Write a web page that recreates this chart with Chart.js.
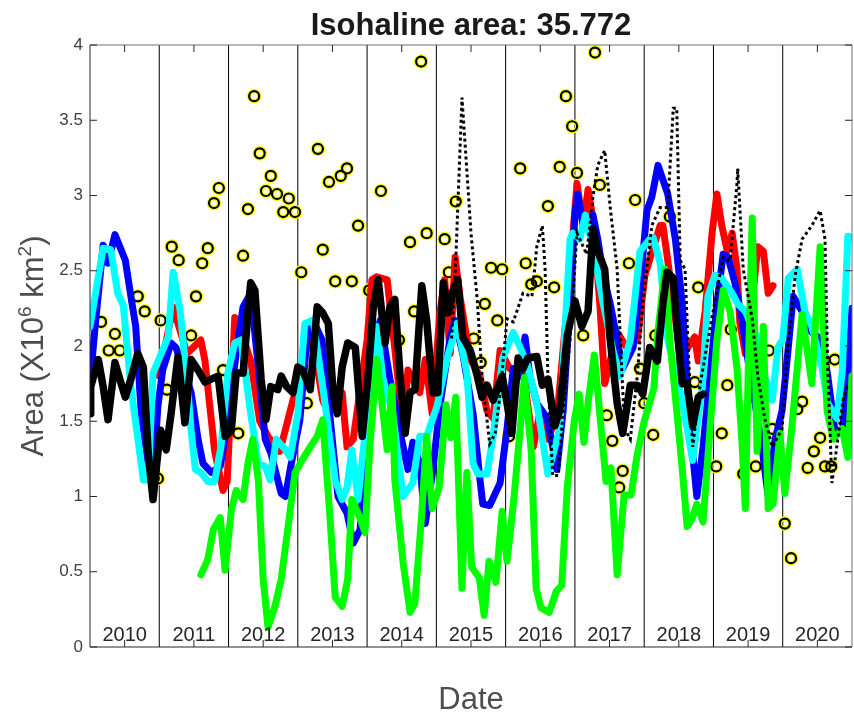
<!DOCTYPE html>
<html>
<head>
<meta charset="utf-8">
<script src="https://cdn.jsdelivr.net/npm/chart.js@4.4.1/dist/chart.umd.min.js"></script>
<style>
  html, body { margin: 0; padding: 0; background: #fff; }
  canvas { display: block; }
</style>
</head>
<body>
<canvas id="chart" width="854" height="715"></canvas>
<script>
// Isohaline area time series, [decimal year, area in 10^6 km^2]
const redSeries = [
  [2011.00,1.80],[2011.13,2.10],[2011.20,2.26],[2011.27,2.15],[2011.40,1.95],[2011.60,2.04],[2011.66,1.90],
  [2011.80,1.30],[2011.92,1.04],[2011.98,1.10],[2012.09,2.19],[2012.18,2.10],[2012.32,1.90],[2012.45,1.50],
  [2012.57,1.40],[2012.74,1.30],[2012.93,1.64],[2013.03,1.78],[2013.13,2.13],[2013.28,1.86],[2013.36,1.64],
  [2013.45,1.55],[2013.64,1.69],[2013.71,1.33],[2013.80,1.38],[2014.00,2.04],[2014.07,2.44],[2014.14,2.46],
  [2014.29,2.44],[2014.37,2.11],[2014.52,1.46],[2014.59,1.84],[2014.76,1.69],[2014.84,1.91],[2014.94,1.55],
  [2015.05,2.22],[2015.12,2.44],[2015.20,1.95],[2015.27,2.59],[2015.34,2.33],[2015.49,1.91],[2015.63,1.80],
  [2015.73,1.57],[2015.82,1.52],[2015.92,1.97],[2016.06,1.85],[2016.25,1.85],[2016.40,1.33],[2016.50,1.57],
  [2016.60,1.38],[2016.74,1.52],[2016.89,2.28],[2017.03,3.08],[2017.12,2.80],[2017.19,3.04],[2017.26,2.85],
  [2017.36,2.28],[2017.43,1.75],[2017.61,2.09],[2017.75,1.99],[2017.90,2.04],[2018.01,2.47],[2018.23,2.80],
  [2018.27,2.80],[2018.34,2.57],[2018.49,2.04],[2018.63,1.99],[2018.73,2.06],[2018.78,1.90],[2018.88,2.23],
  [2018.98,2.75],[2019.05,3.01],[2019.12,2.80],[2019.20,2.63],[2019.27,2.75],[2019.34,2.51],[2019.38,2.16],
  [2019.46,1.95],[2019.56,2.30],[2019.64,2.66],[2019.72,2.63],[2019.79,2.35],[2019.86,2.40]
];

const blueSeries = [
  [2010.00,1.75],[2010.07,2.11],[2010.19,2.67],[2010.26,2.55],[2010.36,2.74],[2010.43,2.66],[2010.51,2.57],
  [2010.59,2.33],[2010.66,2.13],[2010.74,1.55],[2010.84,1.22],[2010.91,1.11],[2010.98,1.60],[2011.05,1.84],
  [2011.17,2.02],[2011.24,1.99],[2011.34,1.86],[2011.46,1.69],[2011.56,1.38],[2011.63,1.22],[2011.75,1.16],
  [2011.88,1.20],[2011.99,1.51],[2012.11,1.95],[2012.21,2.26],[2012.32,2.35],[2012.43,1.86],[2012.53,1.38],
  [2012.61,1.29],[2012.76,1.02],[2012.82,1.00],[2012.89,1.18],[2013.03,1.51],[2013.13,2.04],[2013.22,2.17],
  [2013.35,2.04],[2013.46,1.55],[2013.58,1.00],[2013.71,0.89],[2013.80,0.69],[2013.90,0.78],[2014.00,1.55],
  [2014.11,2.04],[2014.19,2.17],[2014.33,1.78],[2014.48,1.42],[2014.59,1.18],[2014.66,1.36],[2014.76,1.22],
  [2014.84,0.82],[2014.95,1.18],[2015.05,1.60],[2015.20,2.06],[2015.27,2.17],[2015.38,1.95],[2015.53,1.55],
  [2015.63,1.11],[2015.67,0.95],[2015.77,0.94],[2015.92,1.09],[2016.02,1.45],[2016.11,1.85],[2016.21,1.80],
  [2016.28,2.06],[2016.35,1.80],[2016.45,1.62],[2016.60,1.52],[2016.74,1.18],[2016.83,1.57],[2016.93,2.28],
  [2017.00,2.87],[2017.04,3.01],[2017.12,2.80],[2017.26,2.87],[2017.33,2.71],[2017.41,2.47],[2017.51,2.28],
  [2017.61,2.04],[2017.69,1.85],[2017.84,1.99],[2017.94,2.40],[2018.04,2.90],[2018.11,2.99],[2018.20,3.20],
  [2018.34,3.01],[2018.45,2.71],[2018.55,2.28],[2018.62,1.75],[2018.69,1.33],[2018.76,1.00],[2018.85,1.33],
  [2018.95,1.80],[2019.05,2.28],[2019.14,2.61],[2019.21,2.59],[2019.31,2.42],[2019.41,2.18],[2019.50,1.90],
  [2019.60,1.62],[2019.70,1.33],[2019.79,1.00],[2019.89,1.38],[2019.99,1.57],[2020.08,1.99],[2020.15,2.33],
  [2020.28,2.23],[2020.42,2.09],[2020.57,2.04],[2020.65,1.80],[2020.75,1.45],[2020.86,1.42],[2020.94,1.80],
  [2021.00,2.25]
];

const cyanSeries = [
  [2010.00,2.13],[2010.19,2.65],[2010.30,2.64],[2010.40,2.35],[2010.48,2.27],[2010.59,1.73],[2010.77,1.11],
  [2010.84,1.11],[2010.91,1.82],[2011.13,2.06],[2011.20,2.49],[2011.30,2.24],[2011.41,1.73],[2011.46,1.44],
  [2011.52,1.18],[2011.60,1.16],[2011.70,1.10],[2011.80,1.10],[2011.89,1.33],[2011.99,1.82],[2012.09,2.02],
  [2012.18,2.04],[2012.32,1.55],[2012.43,1.22],[2012.53,1.20],[2012.60,1.11],[2012.69,1.38],[2012.82,1.31],
  [2012.89,1.26],[2013.00,1.55],[2013.10,2.15],[2013.22,2.17],[2013.36,1.73],[2013.54,1.11],[2013.64,0.98],
  [2013.71,1.06],[2013.78,1.31],[2013.87,0.98],[2014.00,1.55],[2014.14,2.13],[2014.23,1.78],[2014.37,1.55],
  [2014.52,1.00],[2014.66,1.09],[2014.76,1.40],[2014.86,1.40],[2015.01,1.60],[2015.15,1.91],[2015.30,2.15],
  [2015.44,1.82],[2015.53,1.22],[2015.60,1.15],[2015.73,1.15],[2015.82,1.40],[2015.96,1.92],[2016.11,2.09],
  [2016.21,1.99],[2016.31,1.88],[2016.45,1.62],[2016.61,1.15],[2016.78,1.45],[2016.93,2.71],[2016.97,2.75],
  [2017.07,2.71],[2017.15,2.87],[2017.26,2.66],[2017.41,2.28],[2017.55,1.97],[2017.65,1.80],[2017.80,2.04],
  [2017.94,2.63],[2018.08,2.71],[2018.13,2.72],[2018.23,2.55],[2018.34,2.04],[2018.55,1.64],[2018.70,1.24],
  [2018.84,1.74],[2018.92,2.33],[2019.02,2.47],[2019.12,2.45],[2019.27,2.35],[2019.35,2.28],[2019.46,2.23],
  [2019.60,2.09],[2019.74,1.80],[2019.85,1.64],[2019.93,1.99],[2020.00,2.04],[2020.08,2.45],[2020.21,2.51],
  [2020.32,2.23],[2020.42,2.13],[2020.57,1.85],[2020.65,1.62],[2020.78,1.52],[2020.86,1.83],[2020.94,2.73],
  [2021.00,2.72]
];

const greenSeries = [
  [2011.60,0.48],[2011.70,0.58],[2011.78,0.78],[2011.88,0.86],[2011.95,0.51],[2012.04,0.91],[2012.11,1.04],
  [2012.21,0.98],[2012.28,1.22],[2012.35,1.38],[2012.43,1.11],[2012.50,0.45],[2012.57,0.13],[2012.67,0.27],
  [2012.76,0.45],[2012.86,0.80],[2012.96,1.16],[2013.06,1.24],[2013.18,1.33],[2013.28,1.40],[2013.36,1.51],
  [2013.46,0.89],[2013.54,0.33],[2013.64,0.27],[2013.72,0.45],[2013.78,0.98],[2013.87,0.89],[2013.97,0.76],
  [2014.04,1.33],[2014.14,1.91],[2014.22,1.60],[2014.29,1.31],[2014.36,1.73],[2014.40,1.11],[2014.52,0.56],
  [2014.62,0.23],[2014.69,0.29],[2014.79,0.89],[2014.86,1.40],[2014.94,0.92],[2015.04,1.06],[2015.14,1.61],
  [2015.21,1.39],[2015.28,1.66],[2015.37,0.39],[2015.44,1.16],[2015.51,0.53],[2015.62,0.46],[2015.69,0.21],
  [2015.76,0.57],[2015.86,0.43],[2015.95,0.90],[2016.02,0.57],[2016.12,0.99],[2016.22,1.50],[2016.27,1.79],
  [2016.37,1.30],[2016.44,0.39],[2016.51,0.26],[2016.63,0.23],[2016.73,0.37],[2016.81,0.41],[2016.89,1.06],
  [2016.99,1.50],[2017.06,1.68],[2017.13,1.36],[2017.20,1.66],[2017.28,1.94],[2017.45,1.10],[2017.52,1.19],
  [2017.61,0.48],[2017.71,1.01],[2017.81,1.01],[2017.90,1.28],[2018.00,1.50],[2018.14,1.72],[2018.20,2.10],
  [2018.30,2.51],[2018.37,2.04],[2018.47,1.57],[2018.55,1.18],[2018.62,0.80],[2018.69,0.85],[2018.76,0.95],
  [2018.85,0.83],[2018.95,1.45],[2019.05,2.04],[2019.14,2.37],[2019.24,2.23],[2019.34,1.85],[2019.41,1.38],
  [2019.46,0.92],[2019.50,1.80],[2019.56,2.85],[2019.63,1.30],[2019.72,2.13],[2019.79,0.92],[2019.86,0.95],
  [2019.96,1.42],[2020.03,1.02],[2020.13,1.45],[2020.28,2.21],[2020.42,1.75],[2020.54,2.66],[2020.64,1.57],
  [2020.73,1.38],[2020.86,1.45],[2020.94,1.26],[2021.00,1.80]
];

const blackSeries = [
  [2010.00,1.55],[2010.01,1.73],[2010.12,1.91],[2010.19,1.73],[2010.26,1.51],[2010.36,1.89],[2010.43,1.78],
  [2010.51,1.66],[2010.59,1.78],[2010.69,1.95],[2010.77,1.86],[2010.84,1.29],[2010.91,0.98],[2010.98,1.29],
  [2011.02,1.44],[2011.10,1.31],[2011.17,1.55],[2011.27,1.93],[2011.37,1.49],[2011.46,1.91],[2011.56,1.84],
  [2011.66,1.76],[2011.75,1.78],[2011.85,1.80],[2011.95,1.40],[2012.04,1.44],[2012.11,1.82],[2012.21,1.82],
  [2012.28,2.22],[2012.32,2.42],[2012.38,2.37],[2012.47,1.78],[2012.54,1.51],[2012.61,1.73],[2012.71,1.71],
  [2012.76,1.80],[2012.84,1.73],[2012.93,1.69],[2013.00,1.86],[2013.07,1.84],[2013.18,1.71],[2013.28,2.26],
  [2013.36,2.22],[2013.44,2.15],[2013.51,1.69],[2013.57,1.55],[2013.64,1.86],[2013.72,2.02],[2013.83,1.99],
  [2013.93,1.40],[2014.01,1.78],[2014.09,2.26],[2014.16,2.44],[2014.26,2.02],[2014.33,2.26],[2014.40,2.31],
  [2014.48,1.78],[2014.55,1.42],[2014.62,1.69],[2014.69,1.71],[2014.79,2.40],[2014.86,2.17],[2014.95,1.69],
  [2015.02,1.69],[2015.10,2.42],[2015.17,2.22],[2015.24,2.37],[2015.31,2.44],[2015.38,2.06],[2015.49,1.97],
  [2015.59,1.80],[2015.66,1.66],[2015.73,1.74],[2015.82,1.64],[2015.95,1.80],[2016.02,1.62],[2016.09,1.42],
  [2016.18,1.92],[2016.25,1.85],[2016.32,1.92],[2016.45,1.93],[2016.53,1.74],[2016.61,1.78],[2016.71,1.47],
  [2016.78,1.57],[2016.89,2.07],[2017.00,2.30],[2017.10,2.13],[2017.19,2.23],[2017.26,2.78],[2017.33,2.63],
  [2017.43,2.51],[2017.51,2.04],[2017.61,1.62],[2017.69,1.42],[2017.80,1.74],[2017.90,1.74],[2017.98,1.68],
  [2018.08,1.99],[2018.19,1.90],[2018.27,2.28],[2018.33,2.49],[2018.42,2.45],[2018.49,2.04],[2018.55,1.75],
  [2018.62,1.75],[2018.70,1.47],[2018.78,1.66],[2018.85,1.68]
];

const dottedSeries = [
  [2015.22,2.05],[2015.28,2.57],[2015.37,3.65],[2015.50,2.75],[2015.59,2.31],[2015.66,1.80],[2015.77,1.35],
  [2015.85,1.42],[2015.92,1.68],[2016.02,2.18],[2016.11,2.16],[2016.25,2.35],[2016.38,2.33],[2016.45,2.66],
  [2016.53,2.80],[2016.57,2.51],[2016.61,1.80],[2016.68,1.14],[2016.76,1.14],[2016.83,1.57],[2016.93,2.04],
  [2017.03,2.75],[2017.10,2.68],[2017.17,2.61],[2017.26,2.99],[2017.33,3.20],[2017.43,3.30],[2017.51,2.92],
  [2017.61,2.51],[2017.68,1.80],[2017.72,1.45],[2017.80,1.38],[2017.90,1.80],[2017.98,2.28],[2018.11,2.80],
  [2018.23,2.92],[2018.34,2.92],[2018.42,3.58],[2018.47,3.58],[2018.52,2.57],[2018.59,2.51],[2018.63,2.04],
  [2018.70,1.33],[2018.81,1.75],[2018.92,2.04],[2019.05,2.37],[2019.14,2.59],[2019.24,2.57],[2019.34,3.08],
  [2019.35,3.18],[2019.43,2.51],[2019.56,2.18],[2019.64,1.80],[2019.74,1.52],[2019.85,1.33],[2019.99,1.45],
  [2020.08,2.04],[2020.18,2.47],[2020.28,2.71],[2020.42,2.80],[2020.54,2.90],[2020.61,2.71],[2020.65,1.85],
  [2020.71,1.09],[2020.78,1.33],[2020.87,1.64],[2020.94,1.75]
];

// Individual observations (circles)
const observations = [
  [2010.16,2.16],[2010.36,2.08],[2010.27,1.97],[2010.43,1.97],[2010.69,2.33],[2010.79,2.23],[2011.02,2.17],
  [2010.98,1.12],[2011.11,1.71],[2011.18,2.66],[2011.28,2.57],[2011.46,2.07],[2011.53,2.33],[2011.62,2.55],
  [2011.70,2.65],[2011.79,2.95],[2011.86,3.05],[2011.92,1.84],[2012.14,1.42],[2012.21,2.60],[2012.28,2.91],
  [2012.37,3.66],[2012.45,3.28],[2012.54,3.03],[2012.61,3.13],[2012.70,3.01],[2012.79,2.89],[2012.87,2.98],
  [2012.96,2.89],[2013.05,2.49],[2013.13,1.62],[2013.29,3.31],[2013.36,2.64],[2013.45,3.09],[2013.54,2.43],
  [2013.62,3.13],[2013.71,3.18],[2013.78,2.43],[2013.87,2.80],[2014.03,2.37],[2014.20,3.03],[2014.46,2.04],
  [2014.62,2.69],[2014.68,2.23],[2014.78,3.89],[2014.86,2.75],[2015.12,2.71],[2015.18,2.49],[2015.28,2.96],
  [2015.54,2.05],[2015.64,1.89],[2015.70,2.28],[2015.88,2.17],[2015.79,2.52],[2015.95,2.51],[2016.05,1.40],
  [2016.21,3.18],[2016.29,2.55],[2016.37,2.41],[2016.45,2.43],[2016.61,2.93],[2016.70,2.39],[2016.78,3.19],
  [2016.87,3.66],[2016.96,3.46],[2017.03,3.15],[2017.12,2.07],[2017.29,3.95],[2017.36,3.07],[2017.46,1.54],
  [2017.54,1.37],[2017.64,1.06],[2017.69,1.17],[2017.78,2.55],[2017.87,2.97],[2017.94,1.85],[2018.00,1.62],
  [2018.13,1.41],[2018.16,2.07],[2018.37,2.86],[2018.73,1.76],[2018.78,2.39],[2019.04,1.20],[2019.12,1.42],
  [2019.20,1.74],[2019.25,2.11],[2019.43,1.15],[2019.61,1.20],[2019.80,1.97],[2019.85,1.45],[2020.03,0.82],
  [2020.12,0.59],[2020.21,1.58],[2020.28,1.63],[2020.36,1.19],[2020.45,1.30],[2020.54,1.39],[2020.61,1.20],
  [2020.70,1.20],[2020.75,1.91]
];

const yearLabels = ['2010','2011','2012','2013','2014','2015','2016','2017','2018','2019','2020'];
const titleText = 'Isohaline area: 35.772';
const xTitleText = 'Date';
// y title pieces: [text, superscript?]
const yTitleParts = [['Area (X10', false], ['6', true], [' km', false], ['2', true], [')', false]];

const FONT = '"Liberation Sans", Arial, Helvetica, sans-serif';
const toPoints = s => s.map(([x, y]) => ({ x, y }));

function lineSet(label, series, color, width, order, dashed) {
  return {
    label, data: toPoints(series), borderColor: color, backgroundColor: color,
    borderWidth: width, pointRadius: 0, pointHoverRadius: 0, fill: false, tension: 0,
    borderJoinStyle: dashed ? 'miter' : 'round', borderCapStyle: dashed ? 'butt' : 'round',
    borderDash: dashed ? [3, 3] : [], order
  };
}

// Year separators below the data, axes frame / inner ticks / text above it
const framePlugin = {
  id: 'frame',
  beforeDatasetsDraw(chart) {
    const { ctx, chartArea: a, scales: { x } } = chart;
    ctx.save();
    ctx.strokeStyle = '#000';
    ctx.lineWidth = 1;
    for (let yr = 2011; yr <= 2020; yr++) {
      const px = x.getPixelForValue(yr);
      ctx.beginPath();
      ctx.moveTo(px, a.top);
      ctx.lineTo(px, a.bottom);
      ctx.stroke();
    }
    ctx.restore();
  },
  afterDraw(chart) {
    const { ctx, chartArea: a, scales: { x, y } } = chart;
    ctx.save();
    // axes box
    ctx.lineWidth = 1;
    ctx.strokeStyle = '#262626';
    ctx.beginPath();
    ctx.moveTo(a.left, a.top); ctx.lineTo(a.left, a.bottom); ctx.lineTo(a.right, a.bottom);
    ctx.stroke();
    ctx.strokeStyle = '#6e6e6e';
    ctx.beginPath();
    ctx.moveTo(a.left, a.top); ctx.lineTo(a.right, a.top); ctx.lineTo(a.right, a.bottom);
    ctx.stroke();
    // inward tick marks
    ctx.strokeStyle = '#262626';
    const tl = 7;
    ctx.beginPath();
    for (let v = 0; v <= 4; v += 0.5) {
      const py = y.getPixelForValue(v);
      ctx.moveTo(a.left, py); ctx.lineTo(a.left + tl, py);
      ctx.moveTo(a.right, py); ctx.lineTo(a.right - tl, py);
    }
    yearLabels.forEach((lab, i) => {
      const px = x.getPixelForValue(2010 + i + 0.5);
      ctx.moveTo(px, a.bottom); ctx.lineTo(px, a.bottom - tl);
      ctx.moveTo(px, a.top); ctx.lineTo(px, a.top + tl);
    });
    ctx.stroke();

    // year labels inside the plot
    ctx.fillStyle = '#262626';
    ctx.font = '20px ' + FONT;
    ctx.textAlign = 'center';
    ctx.textBaseline = 'alphabetic';
    yearLabels.forEach((lab, i) => {
      ctx.fillText(lab, x.getPixelForValue(2010 + i + 0.5), a.bottom - 6);
    });

    // title
    ctx.fillStyle = '#1a1a1a';
    ctx.font = 'bold 31px ' + FONT;
    ctx.fillText(titleText, (a.left + a.right) / 2, 35);

    // x title
    ctx.fillStyle = '#4d4d4d';
    ctx.font = '31px ' + FONT;
    ctx.fillText(xTitleText, (a.left + a.right) / 2, 709);

    // y title with superscripts
    const mainFont = '31px ' + FONT, supFont = '19px ' + FONT;
    let total = 0;
    yTitleParts.forEach(([t, sup]) => { ctx.font = sup ? supFont : mainFont; total += ctx.measureText(t).width; });
    ctx.translate(43, (a.top + a.bottom) / 2);
    ctx.rotate(-Math.PI / 2);
    ctx.textAlign = 'left';
    let cx = -total / 2;
    yTitleParts.forEach(([t, sup]) => {
      ctx.font = sup ? supFont : mainFont;
      ctx.fillText(t, cx, sup ? -12 : 0);
      cx += ctx.measureText(t).width;
    });
    ctx.restore();
  }
};

new Chart(document.getElementById('chart'), {
  type: 'line',
  data: {
    datasets: [
      lineSet('dotted', dottedSeries, '#000000', 3, 1, true),
      lineSet('black', blackSeries, '#000000', 7.5, 2),
      lineSet('green', greenSeries, '#00ff00', 7, 3),
      lineSet('cyan', cyanSeries, '#00ffff', 7, 4),
      lineSet('blue', blueSeries, '#0000ff', 7, 5),
      lineSet('red', redSeries, '#ff0000', 7, 6),
      {
        label: 'obs', data: toPoints(observations), showLine: false,
        pointRadius: 5, pointHoverRadius: 5, pointBorderWidth: 2.2,
        pointBorderColor: '#000000', pointBackgroundColor: 'rgba(0,0,0,0)', order: 7
      },
      {
        label: 'obs halo', data: toPoints(observations), showLine: false,
        pointRadius: 5, pointHoverRadius: 5, pointBorderWidth: 4.6,
        pointBorderColor: '#ffff00', pointBackgroundColor: 'rgba(0,0,0,0)', order: 8
      }
    ]
  },
  options: {
    responsive: false,
    animation: false,
    devicePixelRatio: 1,
    layout: { autoPadding: false, padding: { top: 45, right: 2, left: 0, bottom: 0 } },
    plugins: { legend: { display: false }, tooltip: { enabled: false }, title: { display: false } },
    events: [],
    scales: {
      x: {
        type: 'linear', min: 2010, max: 2021,
        ticks: { display: false, stepSize: 1 },
        grid: { display: false, drawTicks: false },
        border: { display: false },
        afterFit(scale) { scale.height = 68; }
      },
      y: {
        min: 0, max: 4,
        ticks: {
          stepSize: 0.5, padding: 7, color: '#404040', font: { family: FONT, size: 17 },
          callback: v => String(Math.round(v * 10) / 10)
        },
        grid: { display: false, drawTicks: false },
        border: { display: false },
        afterFit(scale) { scale.width = 90; }
      }
    }
  },
  plugins: [framePlugin]
});
</script>
</body>
</html>
